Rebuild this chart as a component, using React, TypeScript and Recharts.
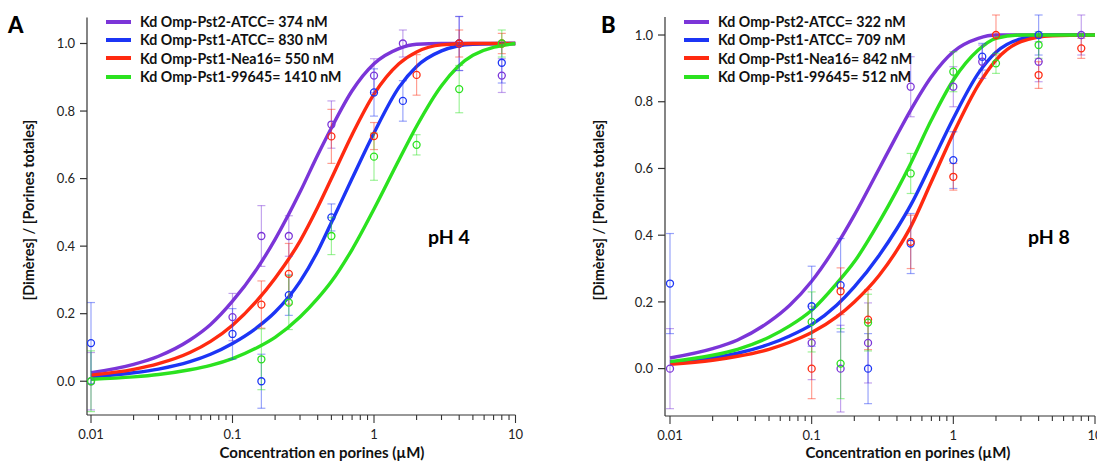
import React from 'react';
import { ComposedChart, Line, Scatter, ErrorBar, XAxis, YAxis } from 'recharts';

const curveX = [0.01, 0.02, 0.03, 0.05, 0.07, 0.1, 0.15, 0.2, 0.3, 0.4, 0.5, 0.7, 1, 1.5, 2, 3, 5, 10];

// pH 4 fits
const fitPst2AtccA = [0.025, 0.05, 0.074, 0.122, 0.168, 0.237, 0.335, 0.42, 0.56, 0.67, 0.75, 0.86, 0.94, 0.985, 0.998, 1, 1, 1];
const fitPst1AtccA = [0.013, 0.025, 0.036, 0.058, 0.08, 0.112, 0.16, 0.205, 0.295, 0.385, 0.47, 0.6, 0.735, 0.87, 0.932, 0.978, 0.998, 1];
const fitNea16A = [0.018, 0.035, 0.052, 0.085, 0.118, 0.166, 0.24, 0.305, 0.415, 0.515, 0.6, 0.73, 0.85, 0.94, 0.975, 0.996, 1, 1];
const fit99645A = [0.006, 0.013, 0.02, 0.034, 0.047, 0.067, 0.1, 0.13, 0.19, 0.245, 0.295, 0.39, 0.51, 0.655, 0.755, 0.875, 0.965, 1];

// pH 8 fits
const fitPst2AtccB = [0.032, 0.06, 0.086, 0.14, 0.19, 0.262, 0.37, 0.46, 0.6, 0.7, 0.775, 0.875, 0.95, 0.99, 1, 1, 1, 1];
const fitPst1AtccB = [0.017, 0.032, 0.046, 0.073, 0.098, 0.132, 0.19, 0.245, 0.34, 0.42, 0.49, 0.615, 0.75, 0.885, 0.948, 0.988, 1, 1];
const fitNea16B = [0.013, 0.025, 0.037, 0.058, 0.079, 0.108, 0.155, 0.2, 0.28, 0.355, 0.425, 0.56, 0.705, 0.85, 0.925, 0.98, 0.998, 1];
const fit99645B = [0.021, 0.04, 0.058, 0.094, 0.128, 0.175, 0.255, 0.32, 0.44, 0.535, 0.615, 0.745, 0.865, 0.955, 0.99, 1, 1, 1];

// measured points: [concentration µM, ratio, error]
const ptsPst2AtccA = [[0.01, 0, 0.085], [0.1, 0.19, 0.07], [0.16, 0.43, 0.09], [0.25, 0.43, 0.06], [0.5, 0.76, 0.07], [1, 0.905, 0.05], [1.6, 1.0, 0.04], [4, 1.0, 0.08], [8, 0.905, 0.05]];
const ptsPst1AtccA = [[0.01, 0.113, 0.12], [0.1, 0.14, 0.075], [0.16, 0, 0.08], [0.25, 0.255, 0.06], [0.5, 0.485, 0.04], [1, 0.855, 0.07], [1.6, 0.83, 0.06], [4, 1.0, 0.08], [8, 0.943, 0.06]];
const ptsNea16A = [[0.16, 0.227, 0.07], [0.25, 0.318, 0.09], [0.5, 0.725, 0.08], [1, 0.726, 0.04], [2, 0.907, 0.06], [4, 1.0, 0.04], [8, 1.0, 0.03]];
const pts99645A = [[0.01, 0, 0.09], [0.16, 0.065, 0.09], [0.25, 0.233, 0.08], [0.5, 0.43, 0.055], [1, 0.665, 0.07], [2, 0.7, 0.03], [4, 0.865, 0.07], [8, 1.0, 0.04]];

const ptsPst2AtccB = [[0.01, 0, 0.12], [0.1, 0.077, 0.11], [0.16, 0, 0.13], [0.25, 0.077, 0.12], [0.5, 0.845, 0.09], [1, 0.845, 0.06], [1.6, 0.92, 0.05], [4, 0.92, 0.06], [8, 1.0, 0.06]];
const ptsPst1AtccB = [[0.01, 0.255, 0.15], [0.1, 0.187, 0.12], [0.16, 0.25, 0.14], [0.25, 0, 0.105], [0.5, 0.375, 0.09], [1, 0.625, 0.085], [1.6, 0.935, 0.04], [4, 1.0, 0.06]];
const ptsNea16B = [[0.1, 0, 0.09], [0.16, 0.232, 0.07], [0.25, 0.147, 0.09], [0.5, 0.38, 0.08], [1, 0.575, 0.04], [2, 1.0, 0.06], [4, 0.88, 0.04], [8, 0.96, 0.03]];
const pts99645B = [[0.1, 0.14, 0.09], [0.16, 0.015, 0.105], [0.25, 0.138, 0.085], [0.5, 0.585, 0.06], [1, 0.89, 0.06], [2, 0.915, 0.03], [4, 0.97, 0.04]];

const legendA = ['Kd Omp-Pst2-ATCC= 374 nM', 'Kd Omp-Pst1-ATCC= 830 nM', 'Kd Omp-Pst1-Nea16= 550 nM', 'Kd Omp-Pst1-99645= 1410 nM'];
const legendB = ['Kd Omp-Pst2-ATCC= 322 nM', 'Kd Omp-Pst1-ATCC= 709 nM', 'Kd Omp-Pst1-Nea16= 842 nM', 'Kd Omp-Pst1-99645= 512 nM'];

const xTicks = [0.01, 0.02, 0.03, 0.04, 0.05, 0.06, 0.07, 0.08, 0.09, 0.1, 0.2, 0.3, 0.4, 0.5, 0.6, 0.7, 0.8, 0.9, 1, 2, 3, 4, 5, 6, 7, 8, 9, 10];
const xMajor = [0.01, 0.1, 1, 10];
const yTicks = [0, 0.2, 0.4, 0.6, 0.8, 1.0];

const colors = ['#7b35d8', '#1c35f5', '#ff2a10', '#2be21f'];
const barColors = ['rgba(123,53,216,0.45)', 'rgba(28,53,245,0.45)', 'rgba(255,42,16,0.45)', 'rgba(43,226,31,0.45)'];
const axisColor = '#333';
const font = 'Lato, "Open Sans", sans-serif';

const toLine = (ys: number[]) => curveX.map((x, i) => ({ x, y: ys[i] }));
const toPts = (p: number[][]) => p.map(([x, y, e]) => ({ x, y, e }));

const LogTick = (props: any) => {
  const { x, y, payload } = props;
  const major = xMajor.includes(payload.value);
  return (
    <g>
      <line x1={x} x2={x} y1={y} y2={y + (major ? 8 : 5)} stroke={axisColor} strokeWidth={1.1} />
      {major && (
        <text x={x} y={y + 24} textAnchor="middle" fontSize={13} fill="#222" fontFamily={font}>
          {String(payload.value)}
        </text>
      )}
    </g>
  );
};

type PanelProps = {
  left: number;
  width: number;
  yAxisWidth: number;
  top: number;
  bottom: number;
  rightMargin: number;
  xDomain: [number, number];
  yDomain: [number, number];
  fits: number[][];
  points: number[][][];
  legend: string[];
  letter: string;
  letterX: number;
  phLabel: string;
  phX: number;
  yLabelX: number;
  xLabelX: number;
};

const Panel = (p: PanelProps) => {
  const plotLeft = p.yAxisWidth;
  return (
    <div style={{ position: 'absolute', left: p.left, top: 0, width: p.width, height: 462 }}>
      <ComposedChart
        width={p.width}
        height={462}
        margin={{ top: p.top, right: p.rightMargin, left: 0, bottom: 0 }}
      >
        <XAxis
          type="number"
          dataKey="x"
          scale="log"
          domain={p.xDomain}
          allowDataOverflow
          ticks={xTicks}
          interval={0}
          tick={<LogTick />}
          tickLine={false}
          tickSize={0}
          tickMargin={0}
          height={462 - p.bottom}
          stroke={axisColor}
          strokeWidth={1.2}
        />
        <YAxis
          type="number"
          dataKey="y"
          domain={p.yDomain}
          allowDataOverflow
          ticks={yTicks}
          interval={0}
          width={p.yAxisWidth}
          tickSize={7}
          tickMargin={5}
          tickFormatter={(v: number) => v.toFixed(1)}
          tick={{ fontSize: 13, fill: '#222', fontFamily: font }}
          stroke={axisColor}
          strokeWidth={1.2}
        />
        {p.fits.map((f, i) => (
          <Line
            key={`fit-${i}`}
            data={toLine(f)}
            dataKey="y"
            type="monotone"
            stroke={colors[i]}
            strokeWidth={3.4}
            dot={false}
            activeDot={false}
            isAnimationActive={false}
          />
        ))}
        {p.points.map((pts, i) => (
          <Scatter
            key={`pts-${i}`}
            data={toPts(pts)}
            dataKey="y"
            isAnimationActive={false}
            shape={(s: any) => (
              <circle cx={s.cx} cy={s.cy} r={3.5} fill="none" stroke={colors[i]} strokeWidth={1.3} />
            )}
          >
            <ErrorBar dataKey="e" direction="y" width={4} stroke={barColors[i]} strokeWidth={1.2} />
          </Scatter>
        ))}
      </ComposedChart>

      {/* legend */}
      {p.legend.map((txt, i) => (
        <div key={txt} style={{ position: 'absolute', left: plotLeft + 19, top: 21.5 + i * 18.4 - 9, height: 18, display: 'flex', alignItems: 'center' }}>
          <div style={{ width: 25, height: 4, background: colors[i] }} />
          <span style={{ marginLeft: 9, fontFamily: font, fontWeight: 700, fontSize: 14.2, color: '#111', whiteSpace: 'nowrap' }}>{txt}</span>
        </div>
      ))}

      <div style={{ position: 'absolute', left: p.letterX, top: 10, fontFamily: font, fontWeight: 900, fontSize: 22, color: '#000', lineHeight: '30px' }}>
        {p.letter}
      </div>
      <div style={{ position: 'absolute', left: p.phX, top: 225, fontFamily: font, fontWeight: 700, fontSize: 19.5, color: '#000', lineHeight: '24px', whiteSpace: 'nowrap' }}>
        {p.phLabel}
      </div>
      <div
        style={{
          position: 'absolute',
          left: p.yLabelX - 150,
          top: 210 - 10,
          width: 300,
          height: 20,
          lineHeight: '20px',
          textAlign: 'center',
          transform: 'rotate(-90deg)',
          fontFamily: font,
          fontWeight: 700,
          fontSize: 14.5,
          color: '#111',
          whiteSpace: 'nowrap',
        }}
      >
        [Dimères] / [Porines totales]
      </div>
      <div style={{ position: 'absolute', left: p.xLabelX - 150, width: 300, top: 444, textAlign: 'center', fontFamily: font, fontWeight: 700, fontSize: 15, color: '#111', lineHeight: '16px', whiteSpace: 'nowrap' }}>
        Concentration en porines (µM)
      </div>
    </div>
  );
};

export default function App() {
  return (
    <div style={{ position: 'absolute', left: 0, top: 0, width: 1097, height: 462, background: '#fff', overflow: 'hidden' }}>
      <Panel
        left={0}
        width={530}
        yAxisWidth={87}
        top={17.5}
        bottom={415}
        rightMargin={14.5}
        xDomain={[0.00937, 10]}
        yDomain={[-0.1, 1.077]}
        fits={[fitPst2AtccA, fitPst1AtccA, fitNea16A, fit99645A]}
        points={[ptsPst2AtccA, ptsPst1AtccA, ptsNea16A, pts99645A]}
        legend={legendA}
        letter="A"
        letterX={8}
        phLabel="pH 4"
        phX={428}
        yLabelX={29}
        xLabelX={322}
      />
      <Panel
        left={550}
        width={547}
        yAxisWidth={115}
        top={17}
        bottom={416}
        rightMargin={2}
        xDomain={[0.00922, 10]}
        yDomain={[-0.142, 1.054]}
        fits={[fitPst2AtccB, fitPst1AtccB, fitNea16B, fit99645B]}
        points={[ptsPst2AtccB, ptsPst1AtccB, ptsNea16B, pts99645B]}
        legend={legendB}
        letter="B"
        letterX={51}
        phLabel="pH 8"
        phX={478}
        yLabelX={49}
        xLabelX={358}
      />
    </div>
  );
}
